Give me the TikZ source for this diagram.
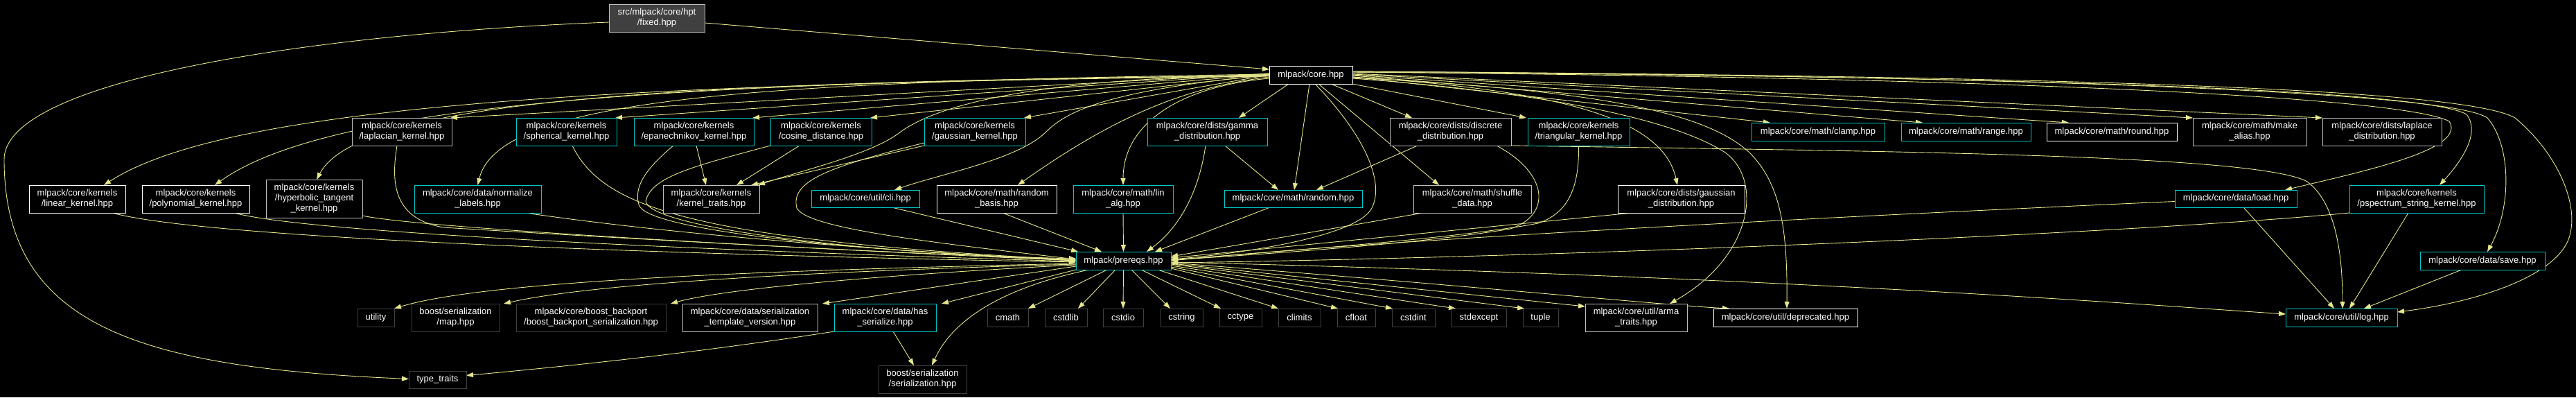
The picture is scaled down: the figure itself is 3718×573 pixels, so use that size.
\documentclass[tikz,border=0pt]{standalone}
\usepackage{fontspec}
\setmainfont{Liberation Sans}
\usetikzlibrary{arrows.meta}
\definecolor{ecol}{RGB}{230,230,140}
\definecolor{cyn}{RGB}{0,200,200}
\definecolor{lgr}{RGB}{191,191,191}
\definecolor{dgr}{RGB}{64,64,64}
\pgfdeclarelayer{bg}
\pgfsetlayers{bg,main}
\newcommand\mknode[7]{\node[#6,minimum width={#4-#2},minimum height={#5-#3}] (#1) at ({(#2+#4)/2},{(#3+#5)/2}) {#7};}
\begin{document}
\begin{tikzpicture}[x=1pt,y=-1pt,
 nb/.style={rectangle,draw,line width=1pt,fill=black,text=white,inner sep=0pt,outer sep=0pt,align=center,font=\fontsize{13}{15}\selectfont},
 wn/.style={nb,draw=white}, gn/.style={nb,draw=lgr}, cn/.style={nb,draw=cyn}, dn/.style={nb,draw=dgr}, fx/.style={nb,draw=lgr,fill=dgr},
 conn/.style={draw=ecol,line width=0.9pt,-{Triangle[length=10pt,width=7pt]}}]
\begin{pgfonlayer}{bg}
\fill[black] (0,0) rectangle (3718,573);
\end{pgfonlayer}
\useasboundingbox (0,0) rectangle (3718,573);
% nodes
\mknode{fixed}{879}{6}{1017}{46}{fx}{src/mlpack/core/hpt\\/fixed.hpp}
\mknode{core}{1832}{95}{1952}{121}{wn}{mlpack/core.hpp}
\mknode{laplacian}{508}{170}{652}{210}{gn}{mlpack/core/kernels\\/laplacian\_kernel.hpp}
\mknode{spherical}{745}{170}{890}{210}{cn}{mlpack/core/kernels\\/spherical\_kernel.hpp}
\mknode{epan}{915}{170}{1088}{210}{cn}{mlpack/core/kernels\\/epanechnikov\_kernel.hpp}
\mknode{cosine}{1112}{170}{1258}{210}{cn}{mlpack/core/kernels\\/cosine\_distance.hpp}
\mknode{gaussk}{1334}{170}{1480}{210}{cn}{mlpack/core/kernels\\/gaussian\_kernel.hpp}
\mknode{gamma}{1656}{170}{1829}{210}{cn}{mlpack/core/dists/gamma\\\_distribution.hpp}
\mknode{discrete}{2006}{170}{2181}{210}{gn}{mlpack/core/dists/discrete\\\_distribution.hpp}
\mknode{triang}{2205}{170}{2352}{210}{cn}{mlpack/core/kernels\\/triangular\_kernel.hpp}
\mknode{clamp}{2528}{177}{2720}{203}{cn}{mlpack/core/math/clamp.hpp}
\mknode{range}{2744}{177}{2931}{203}{cn}{mlpack/core/math/range.hpp}
\mknode{round}{2954}{177}{3142}{203}{wn}{mlpack/core/math/round.hpp}
\mknode{makealias}{3165}{170}{3329}{210}{gn}{mlpack/core/math/make\\\_alias.hpp}
\mknode{laplace}{3352}{170}{3524}{210}{gn}{mlpack/core/dists/laplace\\\_distribution.hpp}
\mknode{linear}{42}{267}{181}{307}{wn}{mlpack/core/kernels\\/linear\_kernel.hpp}
\mknode{poly}{205}{267}{360}{307}{wn}{mlpack/core/kernels\\/polynomial\_kernel.hpp}
\mknode{hyper}{384}{259}{523}{314}{gn}{mlpack/core/kernels\\/hyperbolic\_tangent\\\_kernel.hpp}
\mknode{normalize}{598}{267}{781}{307}{cn}{mlpack/core/data/normalize\\\_labels.hpp}
\mknode{ktraits}{957}{267}{1096}{307}{gn}{mlpack/core/kernels\\/kernel\_traits.hpp}
\mknode{cli}{1171}{274}{1327}{299}{cn}{mlpack/core/util/cli.hpp}
\mknode{rbasis}{1352}{267}{1525}{307}{wn}{mlpack/core/math/random\\\_basis.hpp}
\mknode{linalg}{1549}{267}{1693}{307}{cn}{mlpack/core/math/lin\\\_alg.hpp}
\mknode{random}{1767}{274}{1966}{299}{cn}{mlpack/core/math/random.hpp}
\mknode{shuffle}{2040}{267}{2210}{307}{gn}{mlpack/core/math/shuffle\\\_data.hpp}
\mknode{gaussd}{2335}{267}{2518}{307}{wn}{mlpack/core/dists/gaussian\\\_distribution.hpp}
\mknode{load}{3139}{274}{3315}{299}{cn}{mlpack/core/data/load.hpp}
\mknode{pspec}{3391}{267}{3585}{307}{cn}{mlpack/core/kernels\\/pspectrum\_string\_kernel.hpp}
\mknode{prereqs}{1553}{363}{1690}{389}{cn}{mlpack/prereqs.hpp}
\mknode{save}{3493}{363}{3673}{389}{cn}{mlpack/core/data/save.hpp}
\mknode{utility}{516}{445}{569}{471}{dn}{utility}
\mknode{map}{594}{438}{721}{478}{dn}{boost/serialization\\/map.hpp}
\mknode{bbp}{745}{438}{961}{478}{dn}{mlpack/core/boost\_backport\\/boost\_backport\_serialization.hpp}
\mknode{stv}{985}{438}{1180}{478}{gn}{mlpack/core/data/serialization\\\_template\_version.hpp}
\mknode{hasser}{1204}{438}{1351}{478}{cn}{mlpack/core/data/has\\\_serialize.hpp}
\mknode{cmath}{1425}{445}{1484}{471}{dn}{cmath}
\mknode{cstdlib}{1508}{445}{1569}{471}{dn}{cstdlib}
\mknode{cstdio}{1592}{445}{1650}{471}{dn}{cstdio}
\mknode{cstring}{1675}{445}{1736}{471}{dn}{cstring}
\mknode{cctype}{1760}{445}{1821}{471}{dn}{cctype}
\mknode{climits}{1845}{445}{1906}{471}{dn}{climits}
\mknode{cfloat}{1930}{445}{1985}{471}{dn}{cfloat}
\mknode{cstdint}{2009}{445}{2071}{471}{dn}{cstdint}
\mknode{stdexcept}{2095}{445}{2174}{471}{dn}{stdexcept}
\mknode{tuple}{2198}{445}{2249}{471}{dn}{tuple}
\mknode{arma}{2288}{438}{2435}{478}{gn}{mlpack/core/util/arma\\\_traits.hpp}
\mknode{deprecated}{2473}{445}{2681}{471}{wn}{mlpack/core/util/deprecated.hpp}
\mknode{log}{3299}{445}{3460}{471}{cn}{mlpack/core/util/log.hpp}
\mknode{typetraits}{590}{535}{673}{560}{dn}{type\_traits}
\mknode{ser}{1268}{527}{1395}{567}{dn}{boost/serialization\\/serialization.hpp}
% edges
\begin{pgfonlayer}{bg}
\draw[conn] ([yshift=-7pt]fixed.east) -- ([yshift=8pt]core.west);
\draw[conn] ([yshift=-6pt]fixed.west) .. controls (420,50) and (6,120) .. (6,230) .. controls (6,470) and (200,530) .. ([yshift=1pt]typetraits.west);
% core -> left row
\draw[conn] ([yshift=2pt]core.west) -- ([xshift=-2pt]laplacian.north east);
\draw[conn] ([yshift=2pt]core.west) -- ([xshift=-2pt]spherical.north east);
\draw[conn] ([yshift=1pt]core.west) -- ([xshift=-2pt]epan.north east);
\draw[conn] (core.west) -- ([xshift=-2pt]cosine.north east);
\draw[conn] (core.west) -- ([xshift=-2pt]gaussk.north east);
\draw[conn] ([xshift=28pt]core.south west) -- ([xshift=132pt]gamma.north west);
\draw[conn] ([xshift=89pt]core.south west) -- ([xshift=32pt]discrete.north west);
\draw[conn] (core.south east) -- ([xshift=-2pt]triang.north west);
\draw[conn] ([yshift=-3pt]core.east) -- ([xshift=27pt]clamp.north west);
\draw[conn] ([yshift=-1pt]core.east) -- ([xshift=31pt]range.north west);
\draw[conn] (core.east) -- ([xshift=32pt]round.north west);
\draw[conn] ([yshift=1pt]core.east) -- (makealias.north west);
\draw[conn] ([yshift=2pt]core.east) -- (laplace.north west);
\draw[conn] ([yshift=4pt]core.east) .. controls (2900,112) and (3470,140) .. (3535,175) .. controls (3560,215) and (3420,245) .. ([xshift=-17pt]load.north east);
\draw[conn] ([yshift=4pt]core.east) .. controls (2950,110) and (3500,130) .. (3560,165) .. controls (3580,190) and (3555,230) .. ([xshift=130pt]pspec.north west);
\draw[conn] ([yshift=5pt]core.east) .. controls (3000,110) and (3540,135) .. (3590,170) .. controls (3625,210) and (3625,300) .. ([xshift=97pt]save.north west);
\draw[conn] ([yshift=5pt]core.east) .. controls (3050,110) and (3560,130) .. (3630,170) .. controls (3690,220) and (3720,290) .. (3710,335) .. controls (3700,395) and (3580,435) .. ([yshift=8pt]log.east);
\draw[conn] ([yshift=-2pt]core.west) .. controls (900,120) and (330,150) .. ([xshift=-31pt]linear.north east);
\draw[conn] ([yshift=-1pt]core.west) .. controls (1000,118) and (480,145) .. ([xshift=105pt]poly.north west);
\draw[conn] ([yshift=-1pt]core.west) .. controls (1000,118) and (520,140) .. ([xshift=73pt]hyper.north west);
\draw[conn] ([yshift=1pt]core.west) .. controls (1100,118) and (720,140) .. (normalize.north);
\draw[conn] (core.west) .. controls (1550,112) and (1370,140) .. (1300,190) .. controls (1260,222) and (1160,245) .. ([xshift=-2pt]ktraits.north east);
\draw[conn] (gaussk.south west) -- ([xshift=-12pt]ktraits.north east);
\draw[conn] ([yshift=4pt]gaussk.south west) .. controls (1200,240) and (1140,260) .. (1150,300) .. controls (1165,330) and (1350,350) .. ([yshift=2pt]prereqs.west);
\draw[conn] (core.west) .. controls (1600,130) and (1540,160) .. (1510,190) .. controls (1470,230) and (1360,250) .. ([xshift=-36pt]cli.north east);
\draw[conn] ([yshift=-3pt]core.west) .. controls (1720,125) and (1620,160) .. ([xshift=117pt]rbasis.north west);
\draw[conn] ([yshift=-5pt]core.west) .. controls (1700,125) and (1621,180) .. (linalg.north);
\draw[conn] ([xshift=58pt]core.south west) -- ([xshift=101pt]random.north west);
\draw[conn] ([xshift=71pt]core.south west) -- ([xshift=37pt]shuffle.north west);
\draw[conn] ([yshift=-3pt]core.east) .. controls (2250,130) and (2400,170) .. ([xshift=86pt]gaussd.north west);
\draw[conn] ([yshift=-4pt]core.east) .. controls (2300,130) and (2460,160) .. (2525,220) .. controls (2570,265) and (2580,330) .. ([xshift=106pt]deprecated.north west);
\draw[conn] ([yshift=-5pt]core.east) .. controls (2250,135) and (2420,175) .. (2490,220) .. controls (2545,260) and (2530,370) .. ([xshift=122pt]arma.north west);
\draw[conn] ([xshift=66pt]core.south west) .. controls (1965,190) and (2000,260) .. (1980,300) .. controls (1960,340) and (1800,365) .. ([yshift=2pt]prereqs.east);
% second-row sources
\draw[conn] (discrete.south east) .. controls (2700,218) and (3260,222) .. (3330,262) .. controls (3375,295) and (3381,380) .. ([xshift=82pt]log.north west);
\draw[conn] ([xshift=-21pt]discrete.south east) .. controls (2235,250) and (2240,310) .. (2180,330) .. controls (2050,352) and (1800,368) .. ([yshift=1pt]prereqs.east);
\draw[conn] (triang.south) .. controls (2279,260) and (2270,305) .. (2220,322) .. controls (2100,345) and (1800,366) .. ([yshift=1pt]prereqs.east);
\draw[conn] ([xshift=21pt]gaussd.south west) -- ([yshift=4pt]prereqs.east);
\draw[conn] ([xshift=14pt]shuffle.south west) -- ([yshift=6pt]prereqs.east);
\draw[conn] ([yshift=-4pt]load.west) .. controls (2700,310) and (2000,345) .. (prereqs.east);
\draw[conn] (pspec.south west) .. controls (3100,335) and (2300,370) .. ([yshift=-3pt]prereqs.east);
\draw[conn] ([xshift=66pt]random.south west) -- ([xshift=-23pt]prereqs.north east);
\draw[conn] ([xshift=84pt]gamma.south west) .. controls (1730,280) and (1700,330) .. ([xshift=102pt]prereqs.north west);
\draw[conn] ([xshift=112pt]gamma.south west) -- ([xshift=78pt]random.north west);
\draw[conn] ([xshift=40pt]discrete.south west) -- ([xshift=133pt]random.north west);
\draw[conn] (linalg.south) -- (prereqs.north);
\draw[conn] ([xshift=95pt]rbasis.south west) -- ([xshift=37pt]prereqs.north west);
\draw[conn] ([xshift=116pt]cli.south west) -- ([xshift=3pt]prereqs.north west);
\draw[conn] ([xshift=65pt]laplacian.south west) .. controls (565,260) and (565,315) .. (640,328) .. controls (1000,350) and (1350,368) .. ([yshift=3pt]prereqs.west);
\draw[conn] ([xshift=-19pt]linear.south east) .. controls (300,345) and (1000,368) .. ([yshift=-2pt]prereqs.west);
\draw[conn] ([xshift=-22pt]poly.south east) .. controls (450,338) and (1100,364) .. ([yshift=-1pt]prereqs.west);
\draw[conn] ([yshift=3pt]hyper.south east) .. controls (600,328) and (1100,356) .. (prereqs.west);
\draw[conn] ([xshift=-23pt]normalize.south east) .. controls (1000,342) and (1300,362) .. (prereqs.west);
\draw[conn] ([xshift=81pt]spherical.south west) .. controls (870,300) and (1000,345) .. ([yshift=1pt]prereqs.west);
\draw[conn] ([xshift=57pt]epan.south west) .. controls (930,245) and (915,270) .. (922,295) .. controls (930,330) and (1200,360) .. ([yshift=1pt]prereqs.west);
\draw[conn] (cosine.south west) .. controls (1000,240) and (940,255) .. (932,290) .. controls (935,325) and (1200,362) .. ([yshift=1pt]prereqs.west);
\draw[conn] ([xshift=90pt]epan.south west) -- ([xshift=62pt]ktraits.north west);
\draw[conn] ([xshift=42pt]cosine.south west) -- ([xshift=106pt]ktraits.north west);
% prereqs outgoing
\draw[conn] ([yshift=-4pt]prereqs.west) .. controls (1100,390) and (700,405) .. (utility.north east);
\draw[conn] ([yshift=-5pt]prereqs.west) .. controls (1150,392) and (850,410) .. ([xshift=6pt]map.north east);
\draw[conn] ([yshift=-6pt]prereqs.west) .. controls (1300,395) and (1050,415) .. ([xshift=7pt]bbp.north east);
\draw[conn] ([yshift=-8pt]prereqs.west) -- ([xshift=7pt]stv.north east);
\draw[conn] (prereqs.south west) -- ([xshift=8pt]hasser.north east);
\draw[conn] ([xshift=19pt]prereqs.south west) .. controls (1470,410) and (1380,450) .. ([xshift=77pt]ser.north west);
\draw[conn] ([xshift=45pt]prereqs.south west) -- (cmath.north east);
\draw[conn] ([xshift=57pt]prereqs.south west) -- ([xshift=48pt]cstdlib.north west);
\draw[conn] (prereqs.south) -- (cstdio.north);
\draw[conn] ([xshift=80pt]prereqs.south west) -- ([xshift=14pt]cstring.north west);
\draw[conn] ([xshift=94pt]prereqs.south west) -- ([xshift=2pt]cctype.north west);
\draw[conn] ([xshift=118pt]prereqs.south west) -- (climits.north west);
\draw[conn] ([yshift=-11pt]prereqs.east) -- ([xshift=1pt]cfloat.north west);
\draw[conn] ([yshift=-9pt]prereqs.east) -- ([xshift=1pt]cstdint.north west);
\draw[conn] ([yshift=-7pt]prereqs.east) -- ([xshift=6pt]stdexcept.north west);
\draw[conn] ([yshift=-5pt]prereqs.east) -- ([xshift=2pt]tuple.north west);
\draw[conn] ([yshift=-4pt]prereqs.east) -- ([yshift=-4pt]arma.north west);
\draw[conn] ([yshift=-3pt]prereqs.east) .. controls (2100,410) and (2400,440) .. ([xshift=23pt]deprecated.north west);
\draw[conn] ([yshift=-2pt]prereqs.east) .. controls (2600,400) and (3100,440) .. ([yshift=5pt]log.west);
\draw[conn] ([xshift=85pt]hasser.south west) -- ([xshift=51pt]ser.north west);
\draw[conn] (hasser.south west) .. controls (1000,510) and (800,530) .. ([yshift=6pt]typetraits.east);
\draw[conn] ([xshift=99pt]load.south west) -- ([xshift=70pt]log.north west);
\draw[conn] ([xshift=85pt]pspec.south west) -- ([xshift=92pt]log.north west);
\draw[conn] ([xshift=60pt]save.south west) -- ([xshift=113pt]log.north west);
\end{pgfonlayer}
\end{tikzpicture}
\end{document}
